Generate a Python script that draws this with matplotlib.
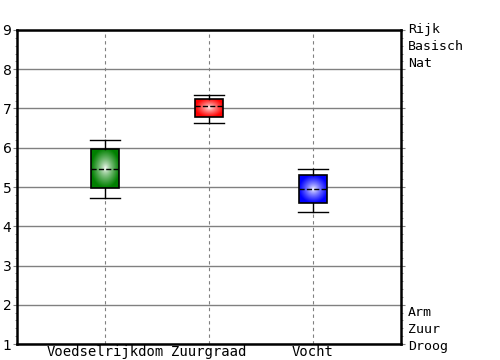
import numpy as np
import matplotlib
matplotlib.use("Agg")
import matplotlib.pyplot as plt
from matplotlib.colors import LinearSegmentedColormap

categories = ["Voedselrijkdom", "Zuurgraad", "Vocht"]
whis_lo = [4.73, 6.63, 4.36]
q1 = [4.98, 6.78, 4.60]
median = [5.46, 7.06, 4.95]
q3 = [5.98, 7.24, 5.31]
whis_hi = [6.20, 7.34, 5.46]
colors = ["#008000", "#ff0000", "#0000ff"]
top_labels = ["Rijk", "Basisch", "Nat"]
bottom_labels = ["Arm", "Zuur", "Droog"]

fig = plt.figure(figsize=(5, 3.6), dpi=100)
ax = fig.add_axes([0.034, 0.0444, 0.768, 0.8723])

pos = np.arange(1, len(categories) + 1)
stats = []
for i, c in enumerate(categories):
    stats.append(dict(label=c, whislo=whis_lo[i], q1=q1[i], med=median[i],
                      q3=q3[i], whishi=whis_hi[i], fliers=[]))

bp = ax.bxp(stats, positions=pos, widths=0.27, patch_artist=True,
            showfliers=False,
            boxprops=dict(facecolor="none", edgecolor="black", linewidth=1.2),
            medianprops=dict(color="black", linestyle="--", linewidth=1),
            whiskerprops=dict(color="black", linewidth=1),
            capprops=dict(color="black", linewidth=1), capwidths=0.29,
            zorder=3)

# radial gradient fill inside each box
yy, xx = np.mgrid[-1:1:100j, -1:1:100j]
r = np.clip(np.sqrt(xx ** 2 + yy ** 2), 0, 1) ** 0.75
for i, box in enumerate(bp["boxes"]):
    cmap = LinearSegmentedColormap.from_list("g", ["white", colors[i]])
    x0, x1 = pos[i] - 0.135, pos[i] + 0.135
    im = ax.imshow(r, cmap=cmap, vmin=0, vmax=1, extent=[x0, x1, q1[i], q3[i]],
                   aspect="auto", interpolation="bilinear", zorder=2)
    im.set_clip_path(box)

ax.set_xlim(0.154, 3.846)
ax.set_ylim(1, 9)
ax.set_yticks(range(1, 10))
ax.set_yticks(np.arange(1, 9, 0.2), minor=True)
ax.yaxis.grid(True, color="gray", linewidth=1)
ax.set_xticks(pos)
ax.set_xticklabels(categories, family="DejaVu Sans Mono", fontsize=10)
ax.xaxis.grid(True, color="gray", linestyle=(0, (3, 3)), linewidth=0.8)
ax.set_axisbelow(True)
ax.tick_params(axis="x", length=0, pad=1)
ax.tick_params(axis="y", which="major", length=3, labelsize=10, pad=1,
               direction="out", color="gray")
ax.tick_params(axis="y", which="minor", length=1.5, direction="out",
               color="gray")
ax.tick_params(axis="y", which="both", right=True)
for s in ax.spines.values():
    s.set_linewidth(1.8)

for k, t in enumerate(top_labels):
    fig.text(0.816, 0.918 - k * 0.047, t, family="DejaVu Sans Mono",
             fontsize=9.5, va="center", ha="left")
for k, t in enumerate(bottom_labels):
    fig.text(0.816, 0.131 - k * 0.047, t, family="DejaVu Sans Mono",
             fontsize=9.5, va="center", ha="left")

fig.savefig("out.png", dpi=100)
